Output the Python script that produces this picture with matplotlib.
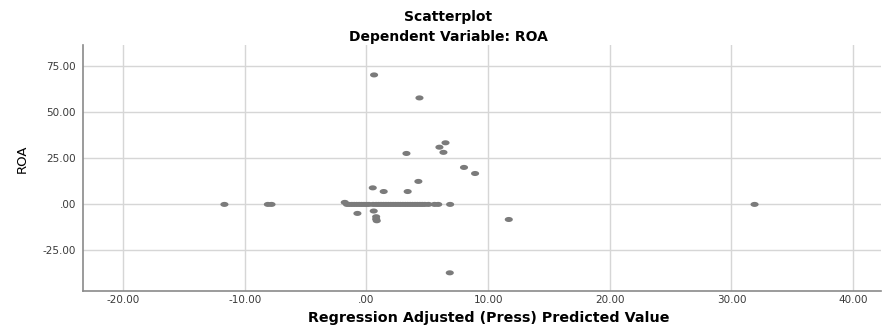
import numpy as np
import matplotlib
matplotlib.use("Agg")
import matplotlib.pyplot as plt
from matplotlib.path import Path
from matplotlib.markers import MarkerStyle

# points off the zero line (predicted, ROA)
x_out = [0.63, 4.36, 3.29, 6.0, 6.5, 6.33, 8.02, 8.93, 6.88, 31.9, 11.7, 6.85,
         -11.67, -8.1, -7.8, -1.78, 0.52, 1.42, 3.39, 4.27, -0.74, 0.6, 0.8, 0.8, 0.85]
y_out = [70.4, 57.9, 27.7, 31.1, 33.5, 28.3, 20.1, 16.8, 0.0, 0.0, -8.2, -37.2,
         0.0, 0.0, 0.0, 1.1, 9.0, 7.0, 7.0, 12.5, -4.9, -3.6, -6.7, -8.0, -8.9]
# dense cluster at ROA = 0
x_zero = [-1.6, -1.4, -1.2, -1.0, -0.8, -0.6, -0.4, -0.2, 0.0, 0.2, 0.55, 0.8,
          1.0, 1.2, 1.4, 1.6, 1.8, 2.0, 2.2, 2.4, 2.6, 2.8, 3.0, 3.2, 3.4, 3.6,
          3.8, 4.0, 4.2, 4.4, 4.6, 4.8, 5.1, 5.6, 5.9]
y_zero = [0.0] * len(x_zero)

xticks = [-20, -10, 0, 10, 20, 30, 40]
yticks = [-25, 0, 25, 50, 75]

def fmt(v):
    s = "%.2f" % v
    return s.replace("0.00", ".00") if v == 0 else s

xs = x_out + x_zero
ys = y_out + y_zero

# stretched ellipse marker like the source image
t = np.linspace(0, 2 * np.pi, 40)
ell = Path(np.column_stack([1.6 * np.cos(t), np.sin(t)]), closed=True)
mk = MarkerStyle(ell)

fig = plt.figure(figsize=(8.82, 3.27), dpi=100)
ax = fig.add_axes([0.094, 0.110, 0.905, 0.752])
ax.scatter(xs, ys, marker=mk, s=34, color="#7b7b7b", edgecolors="none", zorder=3)

ax.set_xlim(-23.3, 42.3)
ax.set_ylim(-47.1, 86.6)
ax.set_xticks(xticks)
ax.set_yticks(yticks)
ax.set_xticklabels([fmt(v) for v in xticks])
ax.set_yticklabels([fmt(v) for v in yticks])
ax.tick_params(length=0, labelsize=7.5, colors="#3a3a3a")
ax.tick_params(axis="x", pad=3)
ax.tick_params(axis="y", pad=5)
ax.grid(True, color="#d6d6d6", linewidth=1)
ax.set_axisbelow(True)
for s in ["top", "right"]:
    ax.spines[s].set_visible(False)
for s in ["left", "bottom"]:
    ax.spines[s].set_color("#8a8a8a")
    ax.spines[s].set_linewidth(1.2)

fig.text(0.025, 0.514, "ROA", ha="center", va="center", rotation=90, fontsize=9.5)
fig.text(0.554, 0.027, "Regression Adjusted (Press) Predicted Value",
         ha="center", va="center", fontsize=10.3, fontweight="bold")
fig.text(0.508, 0.948, "Scatterplot", ha="center", va="center",
         fontsize=10, fontweight="bold")
fig.text(0.508, 0.887, "Dependent Variable: ROA", ha="center", va="center",
         fontsize=10, fontweight="bold")

fig.savefig("out.png", dpi=100)
